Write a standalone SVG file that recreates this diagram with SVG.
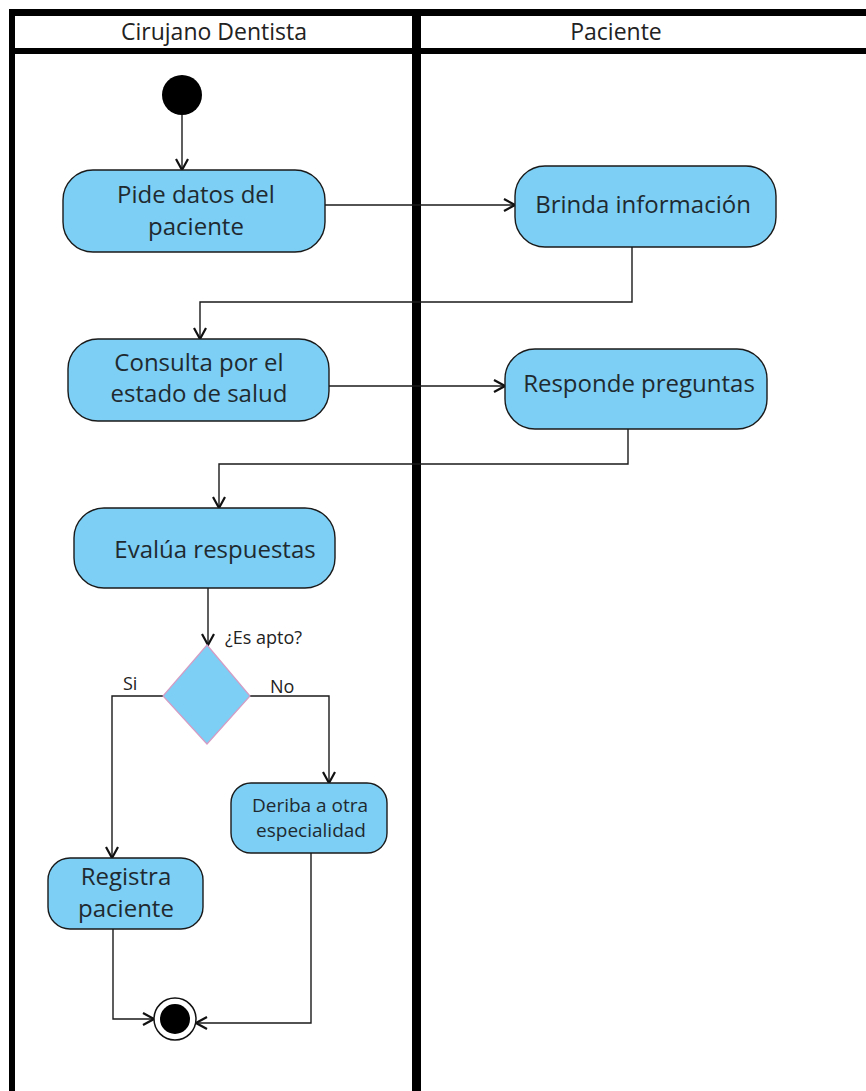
<svg xmlns="http://www.w3.org/2000/svg" width="866" height="1091" viewBox="0 0 866 1091">
<style>
.lane{fill:none;stroke:#000;}
.hdr{font-family:"Open Sans","Noto Sans",sans-serif;font-size:23px;fill:#222;text-anchor:middle;}
.node{fill:#7dcff5;stroke:#1a1a1a;stroke-width:1.4;}
.lbl{font-family:"Open Sans","Noto Sans",sans-serif;font-size:24px;fill:#1f2a30;text-anchor:middle;}
.sm{font-family:"Open Sans","Noto Sans",sans-serif;font-size:18px;fill:#222;}
.mid{font-family:"Open Sans","Noto Sans",sans-serif;font-size:19px;fill:#1f2a30;text-anchor:middle;}
.edge{fill:none;stroke:#1a1a1a;stroke-width:1.4;}
</style>
<defs>
<marker id="arr" markerUnits="userSpaceOnUse" markerWidth="16" markerHeight="16" viewBox="0 0 16 16" refX="14" refY="8" orient="auto">
<path d="M3,2 L14,8 L3,14" fill="none" stroke="#111" stroke-width="2.2"/>
</marker>
</defs>
<rect width="866" height="1091" fill="#fff"/>
<g id="swimlanes">
<rect x="9" y="9" width="857" height="7" fill="#000"/>
<rect x="9" y="48" width="857" height="6" fill="#000"/>
<rect x="9" y="9" width="6" height="1082" fill="#000"/>
<rect x="412" y="9" width="9" height="1082" fill="#000"/>
<text class="hdr" x="214" y="40">Cirujano Dentista</text>
<text class="hdr" x="616" y="40">Paciente</text>
</g>
<g id="connectors">
<path class="edge" d="M182,115 V170" marker-end="url(#arr)"/>
<path class="edge" d="M325,205 H515" marker-end="url(#arr)"/>
<path class="edge" d="M632,247 V302 H200 V339" marker-end="url(#arr)"/>
<path class="edge" d="M329,386 H505" marker-end="url(#arr)"/>
<path class="edge" d="M628,429 V464 H219 V508" marker-end="url(#arr)"/>
<path class="edge" d="M208,588 V645" marker-end="url(#arr)"/>
<path class="edge" d="M163,696 H112 V858" marker-end="url(#arr)"/>
<path class="edge" d="M250,696 H329 V783" marker-end="url(#arr)"/>
<path class="edge" d="M113,929 V1019 H154" marker-end="url(#arr)"/>
<path class="edge" d="M311,853 V1023 H196" marker-end="url(#arr)"/>
<text class="sm" x="225" y="644">¿Es apto?</text>
<text class="sm" x="123" y="690">Si</text>
<text class="sm" x="270" y="693">No</text>
</g>
<g id="start">
<circle cx="182" cy="95" r="20" fill="#000"/>
</g>
<g id="pide">
<rect class="node" x="63" y="170" width="262" height="82" rx="30"/>
<text class="lbl" x="196" y="203">Pide datos del</text>
<text class="lbl" x="196" y="235">paciente</text>
</g>
<g id="brinda">
<rect class="node" x="515" y="166" width="261" height="81" rx="30"/>
<text class="lbl" x="643" y="213">Brinda información</text>
</g>
<g id="consulta">
<rect class="node" x="68" y="339" width="261" height="82" rx="30"/>
<text class="lbl" x="199" y="371">Consulta por el</text>
<text class="lbl" x="199" y="402">estado de salud</text>
</g>
<g id="responde">
<rect class="node" x="505" y="349" width="262" height="80" rx="30"/>
<text class="lbl" x="639" y="392">Responde preguntas</text>
</g>
<g id="evalua">
<rect class="node" x="74" y="508" width="261" height="80" rx="30"/>
<text class="lbl" x="215" y="558">Evalúa respuestas</text>
</g>
<g id="decision">
<polygon points="207,645 250,696 207,744 163,696" fill="#7dcff5" stroke="#d49cc4" stroke-width="1.2"/>
</g>
<g id="deriba">
<rect class="node" x="231" y="783" width="156" height="70" rx="20"/>
<text class="mid" x="310" y="812">Deriba a otra</text>
<text class="mid" x="311" y="837">especialidad</text>
</g>
<g id="registra">
<rect class="node" x="48" y="858" width="155" height="71" rx="22"/>
<text class="lbl" x="126" y="885">Registra</text>
<text class="lbl" x="126" y="917">paciente</text>
</g>
<g id="end">
<circle cx="175" cy="1019" r="21" fill="#fff" stroke="#111" stroke-width="1.5"/>
<circle cx="175" cy="1019" r="15" fill="#000"/>
</g>
</svg>
